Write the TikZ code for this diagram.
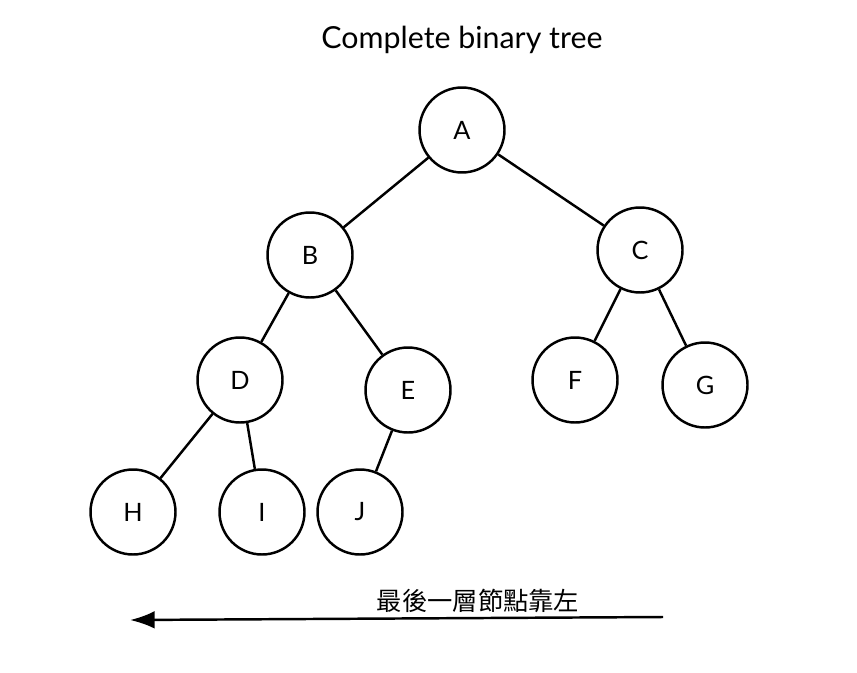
\documentclass[tikz,border=0pt]{standalone}
\usepackage{fontspec}
\setmainfont{Lato}
\newfontfamily\cjk{Noto Sans CJK TC}
\usetikzlibrary{arrows.meta}

\begin{document}
\begin{tikzpicture}[x=0.02cm,y=-0.02cm,
  vertex/.style={draw,circle,line width=1.4pt,minimum size=1.7cm,font=\Large},
  edge/.style={line width=1.4pt}]

\useasboundingbox (0,0) rectangle (857,672);

\node[font=\LARGE] (title) at (462,40) {Complete binary tree};

% tree nodes
\node[vertex] (A) at (462,130) {A};
\node[vertex] (B) at (310,255) {B};
\node[vertex] (C) at (640,250) {C};
\node[vertex] (D) at (240,380) {D};
\node[vertex] (E) at (408,390) {E};
\node[vertex] (F) at (575,380) {F};
\node[vertex] (G) at (705,385) {G};
\node[vertex] (H) at (133,512) {H};
\node[vertex] (I) at (262,512) {I};
\node[vertex] (J) at (360,512) {J};

\foreach \p/\c in {A/B, A/C, B/D, B/E, C/F, C/G, D/H, D/I, E/J}
  \draw[edge] (\p) -- (\c);

% bottom arrow
\coordinate (arrR) at (663,617);
\coordinate (arrL) at (130,620);
\draw[edge,-{Latex[length=14pt,width=10pt]}] (arrR) -- (arrL);
\node[font=\cjk\Large] (note) at (478,601) {最後一層節點靠左};

\end{tikzpicture}
\end{document}
